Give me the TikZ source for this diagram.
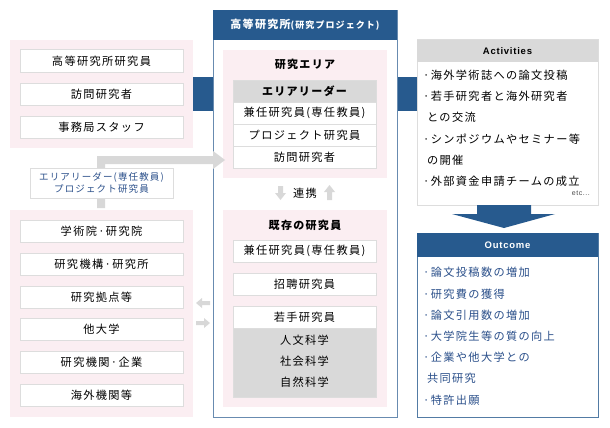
\documentclass[tikz,border=0pt]{standalone}
\usepackage{fontspec}
\setmainfont[LetterSpace=12]{Noto Sans CJK JP}
\newfontfamily\lat[LetterSpace=8]{Liberation Sans}
\definecolor{dblue}{HTML}{275A8E}
\definecolor{pinkbg}{HTML}{FBEEF2}
\definecolor{gr}{HTML}{D9D9D9}
\definecolor{tblue}{HTML}{2A4F8A}
\definecolor{bord}{HTML}{DDDDDD}
\definecolor{arrg}{HTML}{D8D8D8}
\begin{document}
\begin{tikzpicture}[x=1pt,y=-1pt,
  txt/.style={font=\fontsize{11.2}{12}\selectfont, inner sep=0},
  wbox/.style={draw=bord, line width=1pt, fill=white},
  pnl/.style={fill=pinkbg, draw=none}]
\useasboundingbox (0,0) rectangle (610,428);
% connecting bands
\fill[dblue] (190,77) rectangle (216,111);
\fill[dblue] (394,77) rectangle (420,111);
% left top panel
\fill[pnl] (10,40) rectangle (193,148);
\foreach \y/\t/\n in {50/高等研究所研究員/l1,83/訪問研究者/l2,116/事務局スタッフ/l3}{
  \draw[wbox] (20,\y) rectangle (183,\y+22);
  \node[txt] (\n) at (101.5,\y+11) {\t};}
% left bottom panel
\fill[pnl] (10,210) rectangle (193,417);
\foreach \y/\t/\n in {220/学術院·研究院/b1,253/研究機構·研究所/b2,286/研究拠点等/b3,318/他大学/b4,351/研究機関·企業/b5,384/海外機関等/b6}{
  \draw[wbox] (20,\y) rectangle (183,\y+22);
  \node[txt] (\n) at (101.5,\y+11) {\t};}
% center box
\draw[dblue!70, line width=0.8pt, fill=white] (213,10) rectangle (397,417);
\fill[dblue] (213,10) rectangle (397,40);
\node[txt, text=white, font=\fontsize{11}{12}\selectfont\bfseries] (hdr) at (305,25) {高等研究所{\fontsize{9}{10}\selectfont (研究プロジェクト)}};
\fill[pnl] (223,50) rectangle (387,178);
\node[txt, font=\fontsize{11}{12}\selectfont\bfseries] (area) at (305,64) {研究エリア};
\draw[bord, line width=1pt, fill=gr] (233,80) rectangle (376,102);
\node[txt, font=\fontsize{11}{12}\selectfont\bfseries] (al) at (304.5,91) {エリアリーダー};
\foreach \y/\t/\n in {102/兼任研究員(専任教員)/a1,124/プロジェクト研究員/a2,146/訪問研究者/a3}{
  \draw[wbox] (233,\y) rectangle (376,\y+22);
  \node[txt] (\n) at (304.5,\y+11) {\t};}
% renkei arrows
\fill[arrg] (278,186) rectangle (283,193) (275,193) -- (286,193) -- (280.5,200) -- cycle;
\fill[arrg] (327,192) rectangle (332,200) (324,192) -- (335,192) -- (329.5,185) -- cycle;
\node[txt] (rk) at (305,193) {連携};
% existing
\fill[pnl] (223,210) rectangle (387,407);
\node[txt, font=\fontsize{11}{12}\selectfont\bfseries] (ex) at (305,225) {既存の研究員};
\draw[wbox] (233,240) rectangle (376,262); \node[txt] (e1) at (304.5,251) {兼任研究員(専任教員)};
\draw[wbox] (233,273) rectangle (376,295); \node[txt] (e2) at (304.5,284) {招聘研究員};
\draw[bord, line width=1pt, fill=gr] (233,306) rectangle (376,397);
\draw[wbox] (233,306) rectangle (376,328); \node[txt] (e3) at (304.5,317) {若手研究員};
\node[txt] (s1) at (304.5,340) {人文科学};
\node[txt] (s2) at (304.5,361) {社会科学};
\node[txt] (s3) at (304.5,382) {自然科学};
% gray L arrow
\fill[arrg] (97,208) -- (97,156) -- (213,156) -- (213,151) -- (225,160) -- (213,169) -- (213,164) -- (105,164) -- (105,208) -- cycle;
\draw[wbox] (30,168) rectangle (173,198);
\node[txt, text=tblue, align=center, font=\fontsize{9.5}{12}\selectfont] (lbl) at (101.5,183) {エリアリーダー(専任教員)\\プロジェクト研究員};
% small arrows
\fill[arrg] (210,301) -- (202,301) -- (202,298) -- (196,303) -- (202,308) -- (202,305) -- (210,305) -- cycle;
\fill[arrg] (196,321) -- (204,321) -- (204,318) -- (210,323) -- (204,328) -- (204,325) -- (196,325) -- cycle;
% activities
\draw[bord, line width=1pt, fill=white] (417,40) rectangle (598,205);
\fill[gr] (417,40) rectangle (598,62);
\node[txt, font=\lat\fontsize{9.5}{11}\selectfont\bfseries] (act) at (507.5,51) {Activities};
\foreach \y/\t in {75/·海外学術誌への論文投稿,96/·若手研究者と海外研究者,117/\ との交流,139/·シンポジウムやセミナー等,160/\ の開催,181/·外部資金申請チームの成立}{
  \node[txt, anchor=west] at (423,\y) {\t};}
\node[txt, anchor=east, font=\lat\fontsize{7}{8}\selectfont, text=black!70] (etc) at (590,193) {etc...};
% big arrow
\fill[dblue] (477,205) -- (531,205) -- (531,214) -- (555,214) -- (504,228) -- (452,214) -- (477,214) -- cycle;
% outcome
\draw[dblue!80, line width=1pt, fill=white] (417,233) rectangle (598,417);
\fill[dblue] (417,233) rectangle (598,257);
\node[txt, text=white, font=\lat\fontsize{9.5}{11}\selectfont\bfseries] (oc) at (507.5,245) {Outcome};
\foreach \y/\t in {272/·論文投稿数の増加,294/·研究費の獲得,315/·論文引用数の増加,336/·大学院生等の質の向上,357/·企業や他大学との,378/\ 共同研究,400/·特許出願}{
  \node[txt, anchor=west, text=tblue] at (423,\y) {\t};}
\end{tikzpicture}
\end{document}
